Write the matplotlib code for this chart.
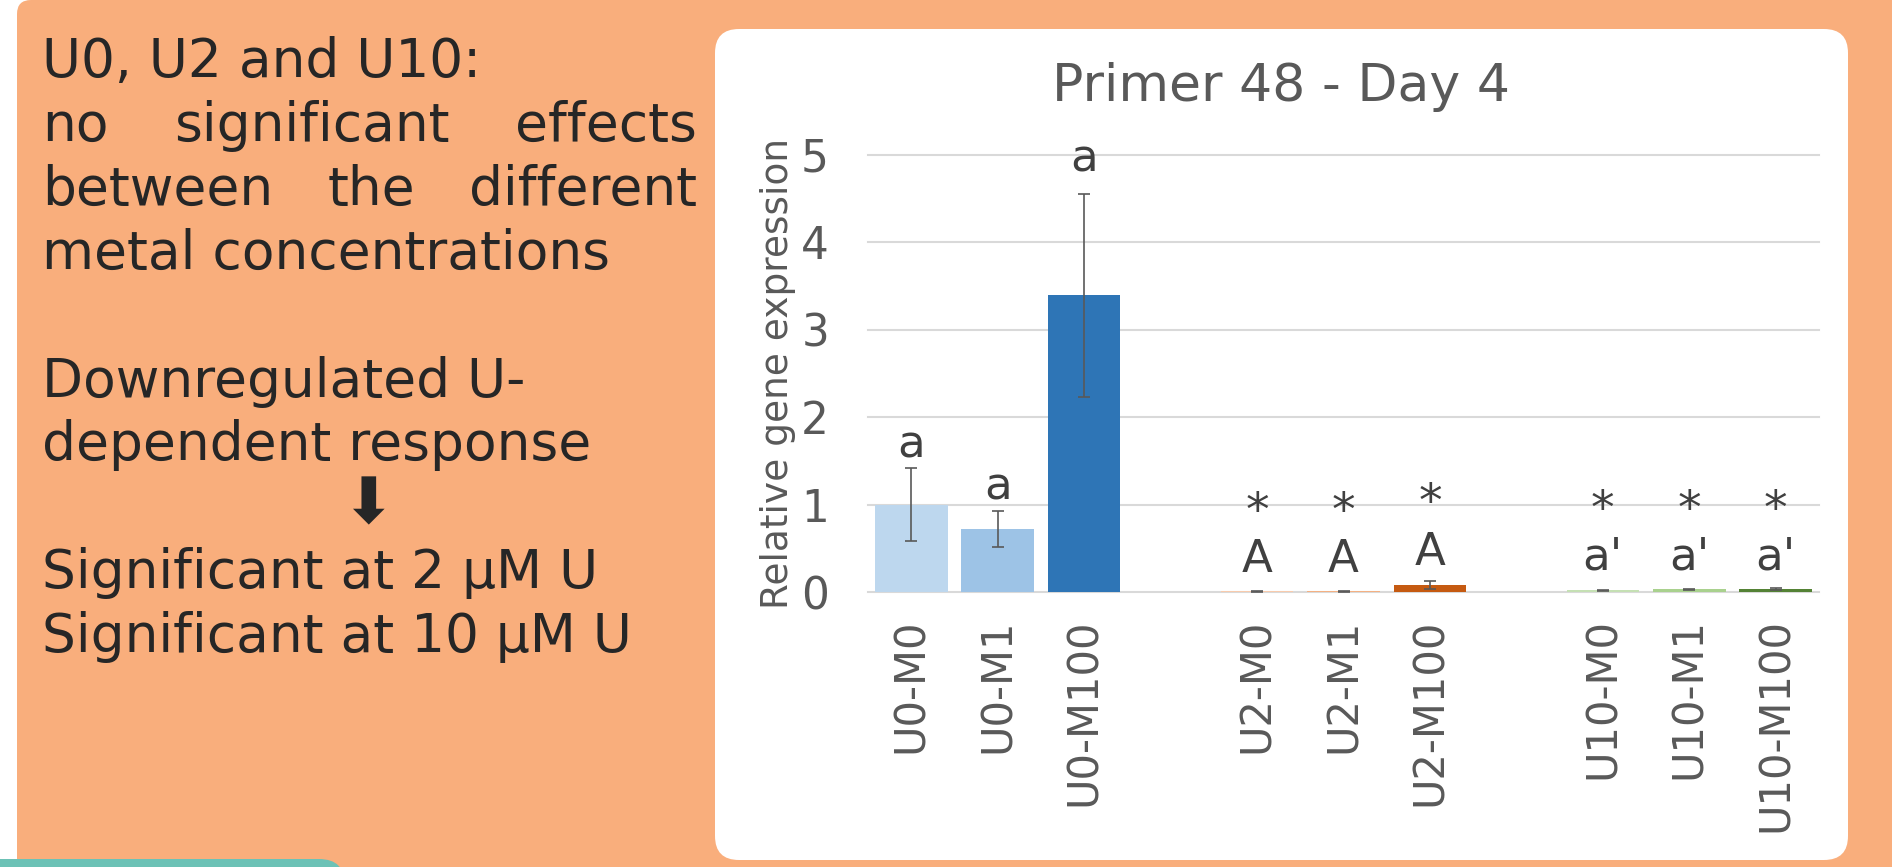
import numpy as np
import matplotlib
matplotlib.use("Agg")
import matplotlib.pyplot as plt
from matplotlib.patches import FancyBboxPatch
from matplotlib.transforms import Affine2D

# ---------------- data ----------------
categories = ["U0-M0", "U0-M1", "U0-M100", "", "U2-M0", "U2-M1", "U2-M100",
              "", "U10-M0", "U10-M1", "U10-M100"]
values = [1.00, 0.72, 3.39, np.nan, 0.006, 0.006, 0.085, np.nan, 0.020, 0.033, 0.035]
errors = [0.42, 0.21, 1.16, np.nan, 0.004, 0.004, 0.045, np.nan, 0.006, 0.007, 0.007]
bar_colors = ["#BDD7EE", "#9DC3E6", "#2E75B6", "none", "#F8CBAD", "#F4B183", "#C55A11",
              "none", "#C5E0B4", "#A9D18E", "#548235"]
letters = ["a", "a", "a", "", "A", "A", "A", "", "a'", "a'", "a'"]
letter_y = [1.54, 1.06, 4.80, np.nan, 0.23, 0.23, 0.31, np.nan, 0.26, 0.26, 0.26]
stars = ["", "", "", "", "*", "*", "*", "", "*", "*", "*"]
star_y = [np.nan, np.nan, np.nan, np.nan, 0.77, 0.77, 0.87, np.nan, 0.79, 0.79, 0.79]
yticks = [0, 1, 2, 3, 4, 5]
title = "Primer 48 - Day 4"
ylabel = "Relative gene expression"

W, H = 1892, 867
plt.rcParams['font.family'] = ['DejaVu Sans']
fig = plt.figure(figsize=(W / 100, H / 100), dpi=100)
fig.patch.set_facecolor("white")
T = Affine2D().scale(1, -1).translate(0, H)  # pixel coords, y from top

ORANGE = "#F9AE7C"
TEAL = "#6CC2B6"
TXT = "#262626"
GRAY = "#595959"

# background panels
fig.add_artist(FancyBboxPatch((17, 0), 2000, 1000, boxstyle="round,pad=0,rounding_size=14",
                              transform=T, facecolor=ORANGE, edgecolor="none", zorder=-3))
fig.add_artist(FancyBboxPatch((-40, 859), 385, 60, boxstyle="round,pad=0,rounding_size=26",
                              transform=T, facecolor=TEAL, edgecolor="none", zorder=-2))
fig.add_artist(FancyBboxPatch((715, 29), 1133, 831, boxstyle="round,pad=0,rounding_size=24",
                              transform=T, facecolor="white", edgecolor="none", zorder=-2))

# ---------------- left text ----------------
FS = 38.4
renderer = fig.canvas.get_renderer()


def line(s, y):
    fig.text(42, y, s, transform=T, fontsize=FS, color=TXT, va="baseline", ha="left")


def justified(words, x0, x1, y):
    ts = [fig.text(0, y, w, transform=T, fontsize=FS, color=TXT, va="baseline", ha="left")
          for w in words]
    widths = [t.get_window_extent(renderer).width for t in ts]
    gap = (x1 - x0 - sum(widths)) / (len(words) - 1)
    x = x0
    for t, w in zip(ts, widths):
        t.set_position((x, y))
        x += w + gap


line("U0, U2 and U10:", 77)
justified(["no", "significant", "effects"], 42, 697, 141)
justified(["between", "the", "different"], 42, 697, 205)
line("metal concentrations", 269)
line("Downregulated U-", 397)
line("dependent response", 460)
fig.text(368, 505, "\u2B07", transform=T, fontsize=46, color=TXT, ha="center", va="center")
line("Significant at 2 \u00b5M U", 588)
line("Significant at 10 \u00b5M U", 652)

# ---------------- chart ----------------
ax = fig.add_axes([868 / W, (H - 592) / H, 951 / W, 437.5 / H])
ax.set_facecolor("none")
x = np.arange(len(categories))
mask = ~np.isnan(values)
xv = x[mask]
vv = np.array(values)[mask]
ev = np.array(errors)[mask]
cv = [c for c, m in zip(bar_colors, mask) if m]
ax.bar(xv, vv, width=0.84, color=cv, zorder=2)
ax.errorbar(xv, vv, yerr=ev, fmt="none", ecolor=GRAY, elinewidth=1.2,
            capsize=4, capthick=1.2, zorder=3)

for xi, s, y in zip(x, letters, letter_y):
    if s:
        ax.text(xi, y, s, ha="center", va="baseline", fontsize=32.5, color="#404040")
for xi, s, y in zip(x, stars, star_y):
    if s:
        ax.text(xi, y, s, ha="center", va="baseline", fontsize=34, color="#404040")

ax.set_xlim(-0.5, len(categories) - 0.5)
ax.set_ylim(0, 5)
ax.set_yticks(yticks)
ax.set_yticklabels([str(t) for t in yticks])
ax.set_xticks(x)
ax.set_xticklabels(categories, rotation=90)
ax.tick_params(axis="x", length=0, pad=19, labelsize=30, labelcolor=GRAY)
ax.tick_params(axis="y", length=0, pad=28, labelsize=31.5, labelcolor=GRAY)
for sp in ax.spines.values():
    sp.set_visible(False)
ax.set_axisbelow(True)
ax.yaxis.grid(True, color="#D9D9D9", linewidth=1.5)
for gl in ax.get_ygridlines():
    gl.set_clip_on(False)
ax.set_ylabel(ylabel, fontsize=27, color=GRAY)
ax.yaxis.set_label_coords(-0.0757, 0.5)

fig.text(1281.5, 101, title, transform=T, fontsize=37.5, color=GRAY, ha="center", va="baseline")

fig.savefig("out.png", dpi=100, facecolor=fig.get_facecolor())
